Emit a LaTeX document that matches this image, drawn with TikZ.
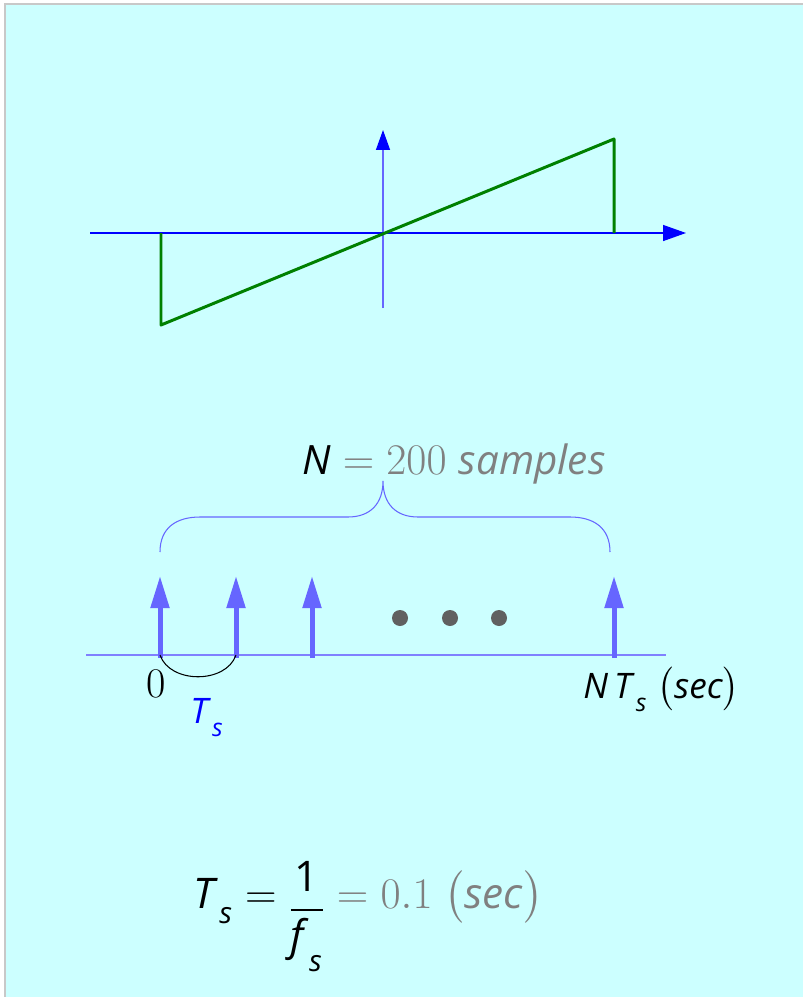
\documentclass[tikz,border=0pt]{standalone}
\usepackage{amsmath}
\usepackage{fontspec}
\usetikzlibrary{arrows.meta}
\newfontfamily\varfont{Open Sans}
\definecolor{cBg}{HTML}{CCFFFF}
\definecolor{cFrame}{HTML}{C8C8C8}
\definecolor{cImp}{HTML}{6666FF}
\definecolor{cAxis}{HTML}{8080FF}
\definecolor{cGreen}{HTML}{008000}
\definecolor{cDot}{HTML}{606060}
\definecolor{cGrey}{HTML}{808080}
\newcommand{\vv}[1]{\text{\varfont\itshape #1}}
\newcommand{\sub}[1]{_{\,\lower0.22em\hbox{$\scriptstyle\vv{#1}$}}}
\tikzset{
	frame/.style   ={draw=cFrame, line width=1.5pt, fill=cBg},
	% signal plot styles
	axish/.style   ={blue, line width=0.8pt, -{Triangle[length=0.46cm, width=0.32cm]}},
	axisv/.style   ={cImp, line width=0.8pt, -{Triangle[length=0.4cm, width=0.28cm, color=blue]}},
	saw/.style     ={cGreen, line width=1.7pt, line join=round},
	% sampling styles
	baseaxis/.style={cAxis, line width=0.8pt},
	impulse/.style ={cImp, line width=0.1cm, -{Triangle[length=0.64cm, width=0.36cm]}},
	span/.style    ={black, line width=0.6pt},
	brace/.style   ={cImp, line width=0.6pt},
	lbl/.style     ={inner sep=0pt, anchor=base west},
}

\begin{document}
\begin{tikzpicture}[x=0.02cm, y=-0.02cm]
	\useasboundingbox (0,0) rectangle (803,997);
	\draw[frame] (5,4) rectangle (830,1020);
	% sawtooth signal
	\coordinate (o) at (383,233);
	\draw[axisv] (383,308) -- (383,130);
	\draw[axish] (90,233) -- (686,233);
	\draw[saw] (161,233) -- (161,325) -- (614,139) -- (614,233);
	% samples
	\draw[baseaxis] (86,655) -- (666,655);
	\foreach \k/\x in {0/160,1/236,2/312,3/614} {
		\coordinate (b\k) at (\x,658);
		\draw[impulse] (b\k) -- ++(0,-82);
	}
	\foreach \x in {400,450,499}
		\fill[cDot] (\x,618) circle[radius=0.16cm];
	\draw[span] (b0 |- 0,655) .. controls (170,684) and (226,684) .. (b1 |- 0,655);
	\draw[brace] (160,552) .. controls (160,528) and (176,517) .. (200,517) -- (348,517)
		.. controls (370,517) and (383,504) .. (383,481)
		.. controls (383,504) and (396,517) .. (418,517) -- (570,517)
		.. controls (594,517) and (610,528) .. (610,552);
	% labels
	\node[lbl] (nlbl) at (302,474) {\fontsize{23}{27}\selectfont $\vv{N} \color{cGrey}= 200\ \vv{samples}$};
	\node[lbl, anchor=base] (zero) at (156,697) {\fontsize{24}{28}\selectfont 0};
	\node[lbl] (tslbl) at (190,723) {\fontsize{20}{24}\selectfont $\color{blue}\vv{T}\sub{s}$};
	\node[lbl] (ntlbl) at (583,698) {\fontsize{20}{24}\selectfont $\vv{N}\,\vv{T}\sub{s}\;\bigl(\vv{sec}\bigr)$};
	\node[lbl] (fmla) at (193,908) {\fontsize{24}{28}\selectfont $\vv{T}\sub{s} = \lower0.3em\hbox{$\dfrac{\text{\varfont 1}}{\vv{f}\sub{s}}$} \color{cGrey}= 0.1\;\bigl(\vv{sec}\bigr)$};
\end{tikzpicture}
\end{document}
